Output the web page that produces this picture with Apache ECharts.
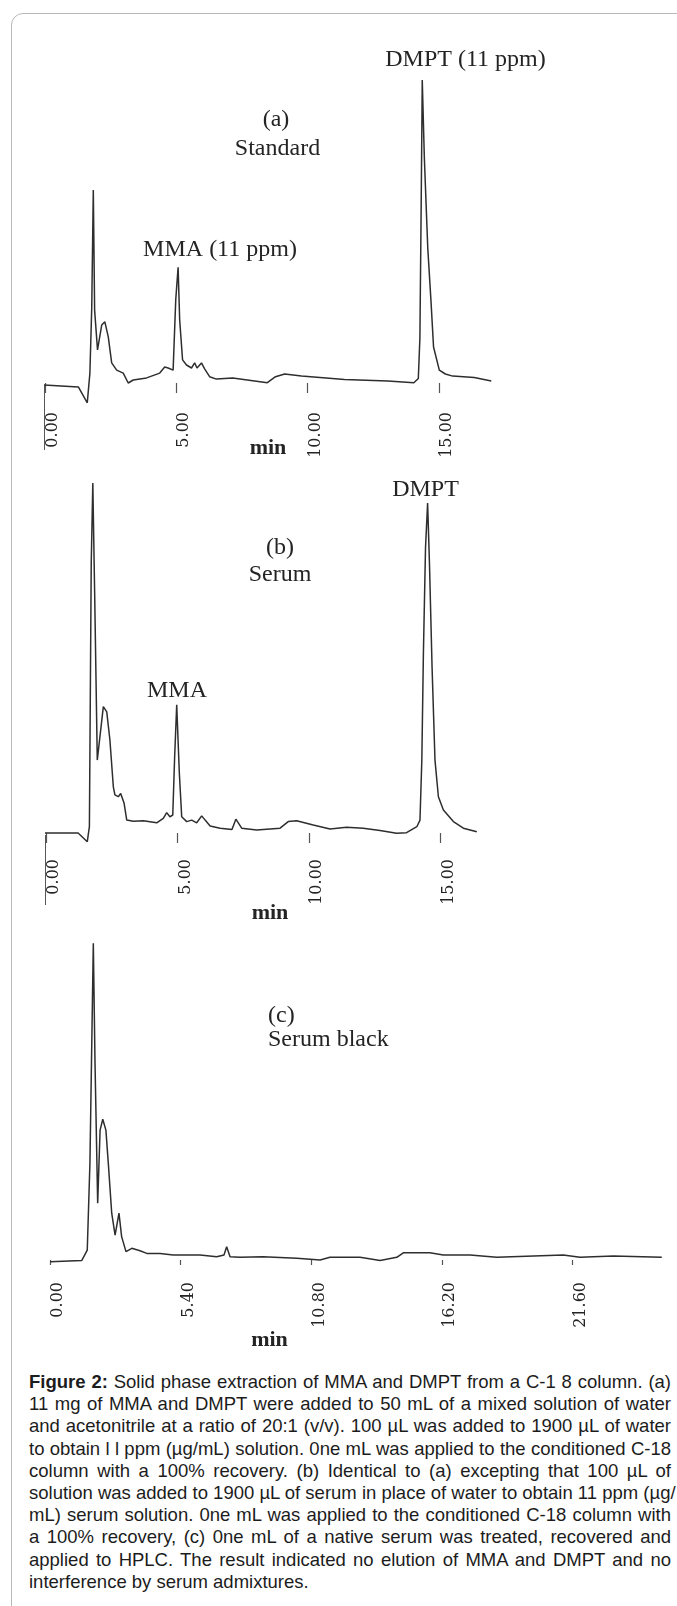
<!DOCTYPE html>
<html>
<head>
<meta charset="utf-8">
<script src="https://cdn.jsdelivr.net/npm/echarts@6/dist/echarts.min.js"></script>
<style>
html,body{margin:0;padding:0;background:#fff;}
#frame{position:absolute;left:11px;top:13px;width:720px;height:1660px;border:1px solid #b8b8b8;border-radius:12px;box-sizing:border-box;}
#chart{position:absolute;left:0;top:0;width:677px;height:1365px;}
#caption{position:absolute;left:29px;top:1371px;width:642px;font-family:"Liberation Sans",Arial,sans-serif;font-size:18.5px;line-height:22.2px;color:#1c1c1c;}
#caption div{text-align:justify;text-align-last:justify;white-space:nowrap;}
#caption div.last{text-align-last:left;}
</style>
</head>
<body>
<div id="frame"></div>
<div id="chart"></div>
<div id="caption">
<div><b>Figure 2:</b> Solid phase extraction of MMA and DMPT from a C-1 8 column. (a)</div>
<div>11 mg of MMA and DMPT were added to 50 mL of a mixed solution of water</div>
<div>and acetonitrile at a ratio of 20:1 (v/v). 100 µL was added to 1900 µL of water</div>
<div>to obtain l l ppm (µg/mL) solution. 0ne mL was applied to the conditioned C-18</div>
<div>column with a 100% recovery. (b) Identical to (a) excepting that 100 µL of</div>
<div>solution was added to 1900 µL of serum in place of water to obtain 11 ppm (µg/</div>
<div>mL) serum solution. 0ne mL was applied to the conditioned C-18 column with</div>
<div>a 100% recovery, (c) 0ne mL of a native serum was treated, recovered and</div>
<div>applied to HPLC. The result indicated no elution of MMA and DMPT and no</div>
<div class="last">interference by serum admixtures.</div>
</div>
<script>
// ---- Data (retention time in min, detector signal in arbitrary units) ----
const timeA = [-0.04, 1.27, 1.61, 1.71, 1.78, 1.84, 1.89, 2.00, 2.16, 2.28, 2.41, 2.54, 2.73, 2.98, 3.17, 3.36, 3.87, 4.37, 4.56, 4.69, 4.88, 4.98, 5.07, 5.13, 5.24, 5.39, 5.58, 5.70, 5.79, 5.96, 6.08, 6.27, 6.53, 7.15, 8.47, 8.78, 9.13, 9.77, 11.41, 13.06, 14.05, 14.22, 14.28, 14.33, 14.37, 14.45, 14.58, 14.70, 14.80, 15.02, 15.25, 15.53, 16.35, 17.0];
const signalA = [-0.7, -1.3, -6.6, 3.3, 25, 64.3, 24.3, 11, 19.3, 20.4, 15.4, 6.7, 4.3, 3.3, 0, 1, 1.7, 3.3, 5.3, 5, 4.3, 27.7, 38.6, 21, 7.7, 6, 5, 6.7, 5, 6.7, 4.7, 2.1, 1.3, 1.7, 0.1, 2.1, 3, 2.3, 1.2, 0.7, 0.1, 1.5, 15, 60, 101, 75, 45, 27.7, 12, 4.3, 3, 2.3, 1.8, 0.7];

const timeB = [-0.04, 1.22, 1.57, 1.65, 1.72, 1.78, 1.85, 1.95, 2.18, 2.31, 2.43, 2.56, 2.62, 2.75, 2.84, 2.97, 3.07, 3.32, 3.70, 4.21, 4.46, 4.59, 4.71, 4.82, 4.89, 4.97, 5.07, 5.16, 5.35, 5.54, 5.73, 5.92, 6.05, 6.24, 6.62, 7.07, 7.22, 7.44, 8.01, 8.90, 9.21, 9.53, 10.16, 10.80, 11.43, 12.06, 12.70, 13.33, 13.71, 14.10, 14.22, 14.29, 14.35, 14.43, 14.51, 14.58, 14.68, 14.79, 14.92, 15.11, 15.49, 15.87, 16.38];
const signalB = [0, 0, -2.9, 2.1, 90, 116.7, 80, 24.3, 42.1, 40.4, 31, 15.4, 12.7, 12.1, 13.2, 9.9, 4.3, 3.9, 4.1, 3.4, 4.9, 6.8, 5.4, 6, 25, 42.7, 19.9, 5.4, 3.8, 4.3, 3.4, 5.7, 4.3, 2.3, 1.6, 1.2, 4.6, 1.6, 1.0, 1.6, 3.8, 4.1, 2.7, 1.3, 1.9, 1.6, 0.8, -0.1, 0.1, 2.1, 4.3, 24.3, 60, 95, 110, 90, 55, 24.3, 12.1, 7.7, 3.8, 1.6, 0.4];

const timeC = [0, 1.31, 1.54, 1.65, 1.79, 1.86, 1.97, 2.07, 2.18, 2.31, 2.41, 2.55, 2.69, 2.85, 2.96, 3.14, 3.38, 3.72, 4.00, 4.55, 5.09, 6.20, 6.89, 7.19, 7.30, 7.44, 7.85, 8.80, 10.20, 11.16, 11.57, 12.81, 13.64, 14.33, 14.60, 15.70, 16.25, 17.36, 18.46, 21.21, 21.90, 23.28, 25.28];
const signalC = [-0.6, -0.2, 3.3, 32.3, 105.6, 65.7, 18.9, 43.3, 46.9, 43.3, 32.2, 15.6, 8.3, 15.6, 7.8, 2.8, 3.9, 3.1, 2.2, 2.2, 1.7, 1.7, 1.1, 1.7, 4.4, 1.1, 0.9, 1.1, 0.6, 0, 0.9, 0.9, -0.2, 0.9, 2.4, 2.4, 1.7, 1.7, 0.9, 1.7, 0.9, 1.3, 0.9];

// short vertical baseline marker at the start of the run (panels a and b)
const stubTimeA = [-0.04, -0.04], stubSignalA = [-0.7, -22.3];
const stubTimeB = [-0.04, -0.04], stubSignalB = [-0.7, -24];

// tick values (min)
const ticksA = [0, 5, 10, 15];
const ticksB = [0, 5, 10, 15];
const ticksC = [0, 5.4, 10.8, 16.2, 21.6];

const zip = (xs, ys) => xs.map((x, i) => [x, ys[i]]);

const INK = '#242424';
const TRACE = '#2e2e2e';
const serif = '"Liberation Serif", "Times New Roman", serif';

function xAxisFor(grid, max, ticks, tickLen, margin) {
  return {
    type: 'value', gridIndex: grid, min: 0, max: max,
    axisLine: {show: false}, splitLine: {show: false},
    axisTick: {show: true, length: tickLen, customValues: ticks, lineStyle: {color: '#555', width: 1.2}},
    axisLabel: {
      show: true, rotate: 90, margin: margin, customValues: ticks,
      formatter: v => Number(v).toFixed(2),
      fontFamily: '"DejaVu Serif", serif', fontSize: 16, color: INK,
      verticalAlign: 'top'
    }
  };
}
function yAxisFor(grid, min, max) {
  return {type: 'value', gridIndex: grid, min: min, max: max, show: false};
}
function trace(idx, data, width) {
  return {
    type: 'line', xAxisIndex: idx, yAxisIndex: idx, data: data,
    symbol: 'none', showSymbol: false, clip: false, silent: true,
    lineStyle: {color: TRACE, width: width}
  };
}
function txt(text, x, y, opts) {
  return {
    type: 'text', x: x, y: y, silent: true,
    style: Object.assign({text: text, font: '24px ' + serif, fill: INK, align: 'center', verticalAlign: 'middle'}, opts || {})
  };
}

const chart = echarts.init(document.getElementById('chart'), null, {renderer: 'canvas'});
chart.setOption({
  animation: false,
  backgroundColor: 'transparent',
  grid: [
    {left: 45, top: 77, width: 446.3, height: 316, outerBoundsMode: 'none'},
    {left: 46, top: 479, width: 433.95, height: 366, outerBoundsMode: 'none'},
    {left: 50, top: 939, width: 617.1, height: 336, outerBoundsMode: 'none'}
  ],
  xAxis: [
    xAxisFor(0, 17, ticksA, 10, 19),
    xAxisFor(1, 16.5, ticksB, 10, 14),
    xAxisFor(2, 25.5, ticksC, 5, 7)
  ],
  yAxis: [
    yAxisFor(0, -10 / 3, 102),
    yAxisFor(1, -4, 118),
    yAxisFor(2, -5, 107)
  ],
  series: [
    trace(0, zip(timeA, signalA), 1.5),
    trace(0, zip(stubTimeA, stubSignalA), 1.7),
    trace(1, zip(timeB, signalB), 1.5),
    trace(1, zip(stubTimeB, stubSignalB), 1.7),
    trace(2, zip(timeC, signalC), 1.5)
  ],
  graphic: [
    txt('DMPT (11 ppm)', 465.5, 60),
    txt('(a)', 276, 120),
    txt('Standard', 277.5, 148.5),
    txt('MMA (11 ppm)', 220, 250),
    txt('min', 268, 448, {font: 'bold 22px ' + serif}),
    txt('DMPT', 425.5, 490),
    txt('(b)', 280, 548),
    txt('Serum', 280, 574.5),
    txt('MMA', 177, 691),
    txt('min', 270, 913, {font: 'bold 22px ' + serif}),
    txt('(c)', 268, 1016, {align: 'left'}),
    txt('Serum black', 268, 1039.5, {align: 'left'}),
    txt('min', 269.5, 1340, {font: 'bold 22px ' + serif})
  ]
});
</script>
</body>
</html>
